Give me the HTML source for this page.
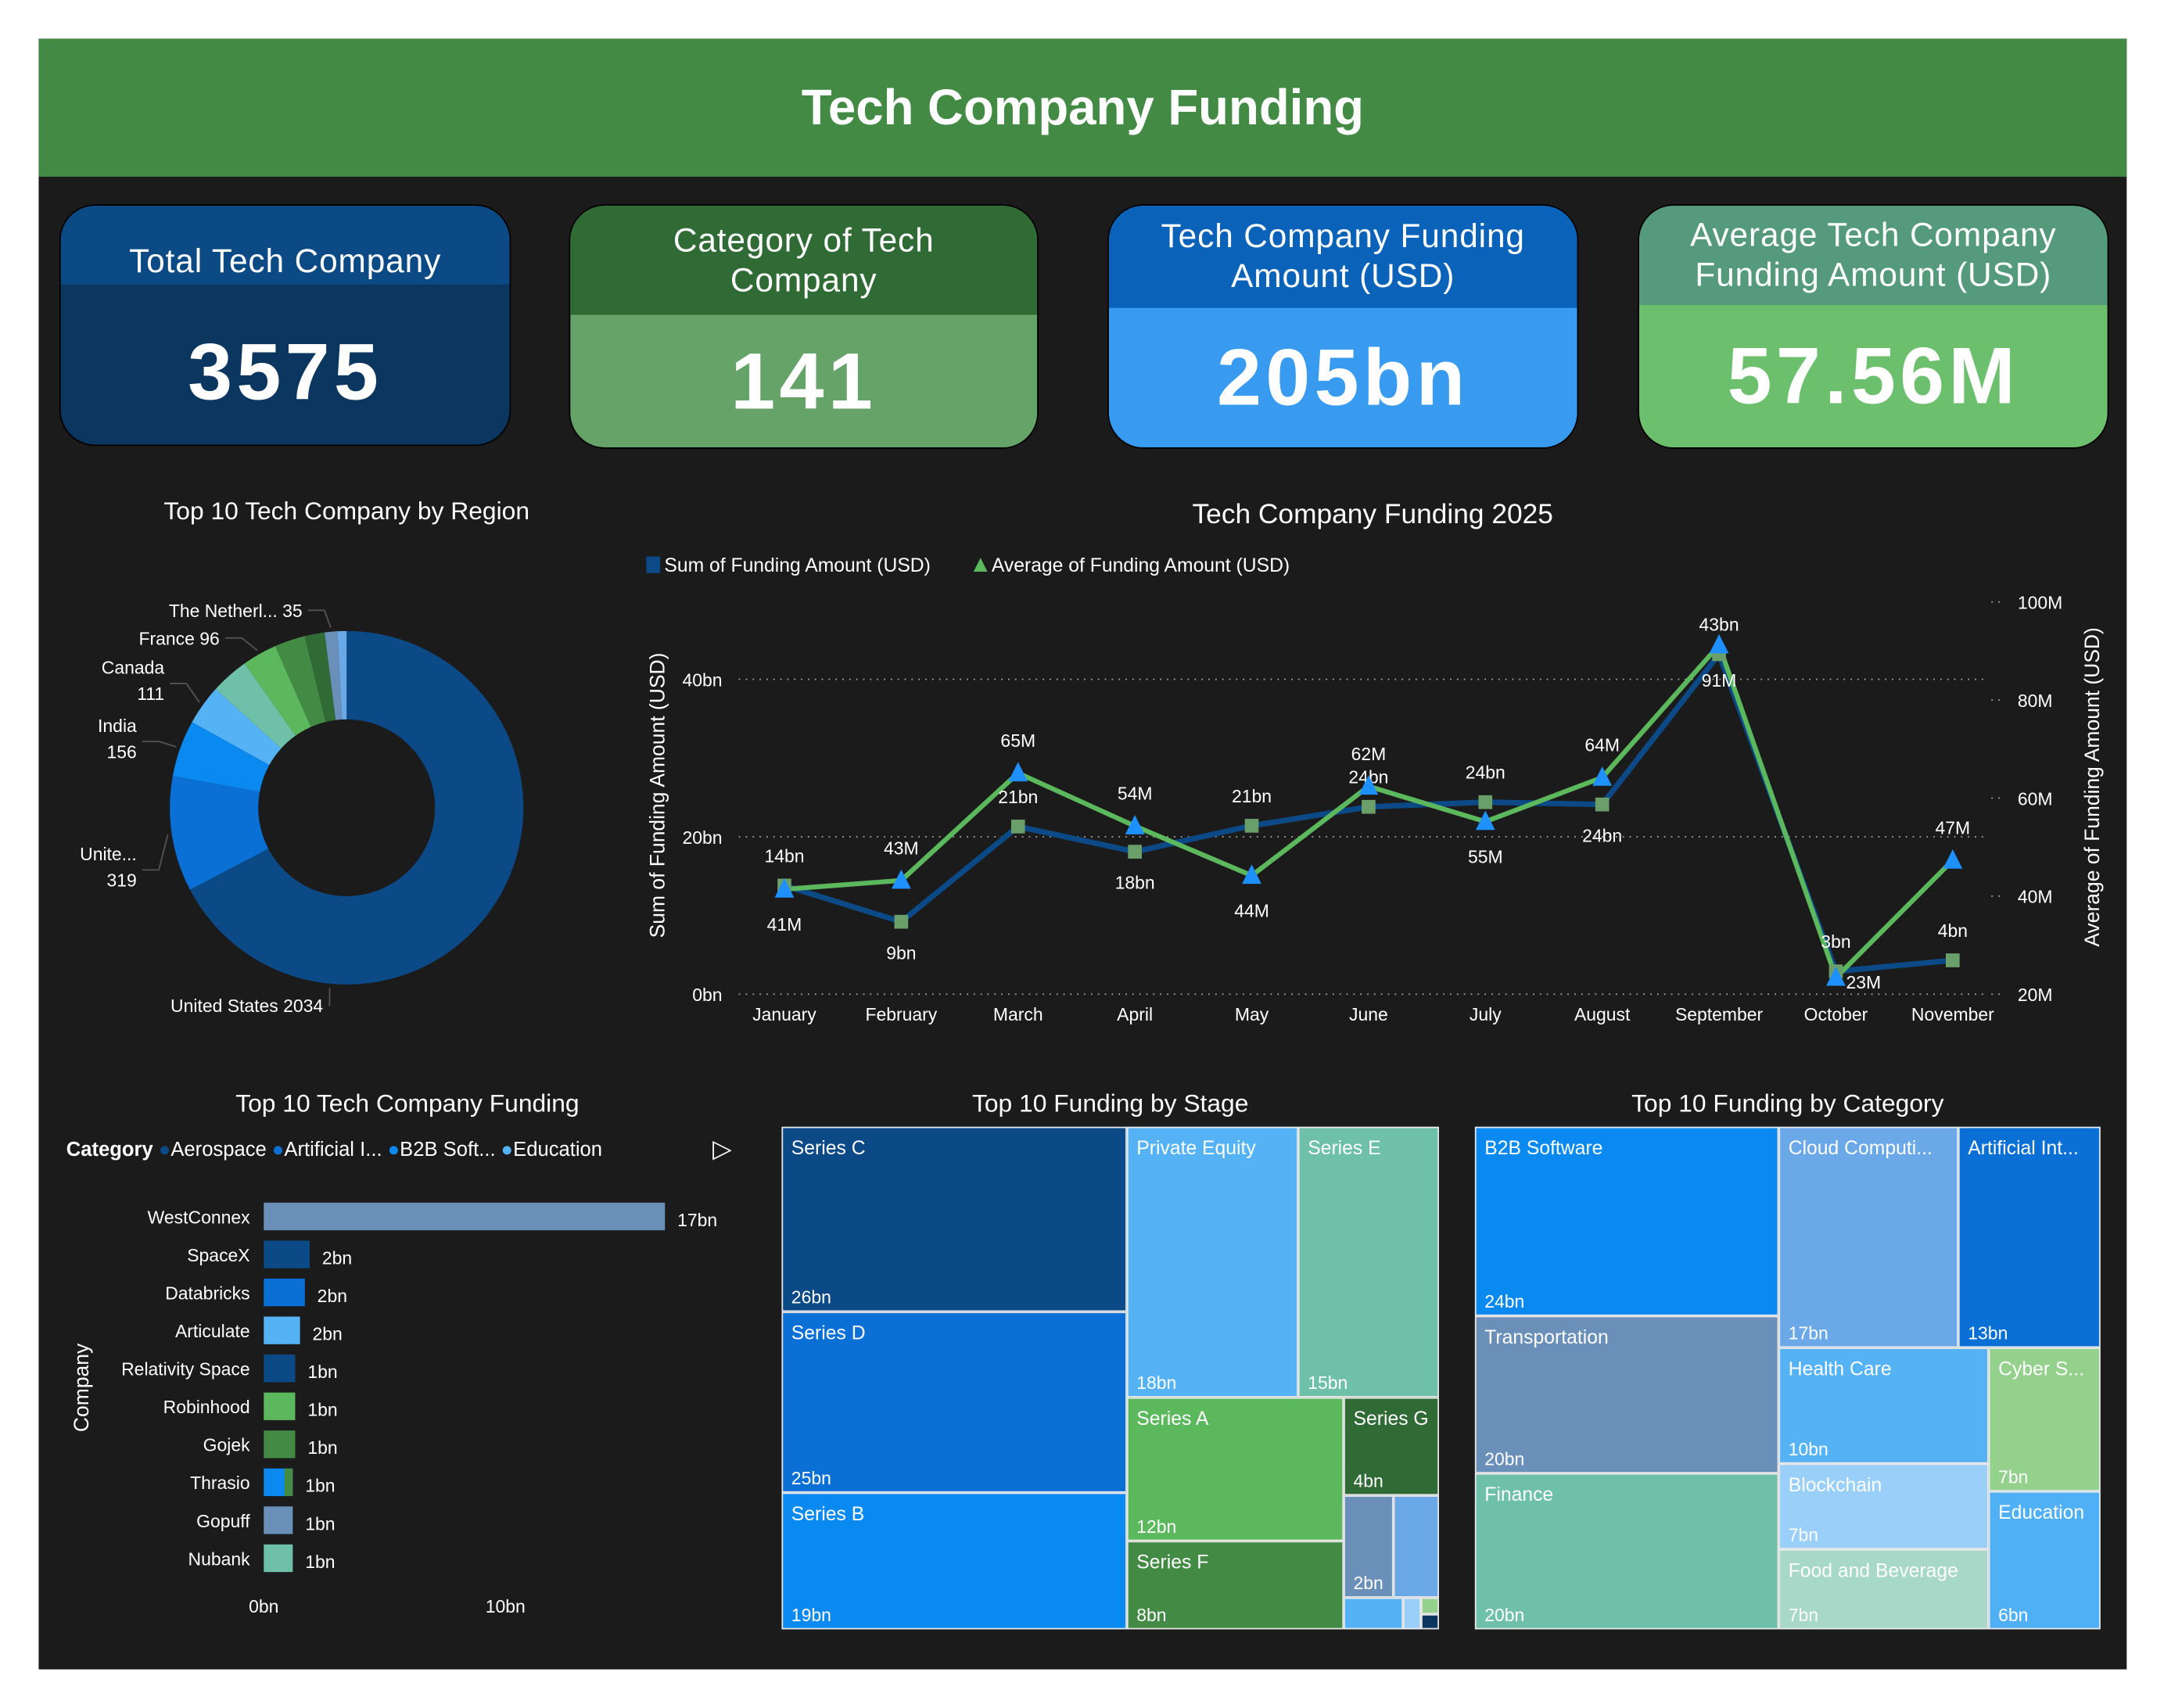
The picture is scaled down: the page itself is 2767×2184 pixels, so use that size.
<!DOCTYPE html>
<html><head><meta charset="utf-8">
<style>
html,body{margin:0;padding:0;background:#fff;}
body{width:2767px;height:2184px;overflow:hidden;font-family:"Liberation Sans",sans-serif;}
#root{position:absolute;left:0;top:0;width:1567px;height:1237px;transform:scale(1.7658,1.7656);transform-origin:0 0;}
.abs{position:absolute;}
.panel{left:28px;top:28px;width:1512px;height:1181px;background:#1b1b1b;}
.header{left:28px;top:28px;width:1512px;height:100px;background:#438a45;color:#fff;font-weight:bold;font-size:36px;text-align:center;line-height:100px;}
.card{position:absolute;border:1.5px solid #000;border-radius:26px;overflow:hidden;color:#fff;text-align:center;}
.card .t{position:absolute;left:0;right:0;top:0;display:flex;align-items:center;justify-content:center;font-size:24px;line-height:29px;letter-spacing:0.5px;}
.card .v{position:absolute;left:0;right:0;bottom:0;display:flex;align-items:center;justify-content:center;font-size:58px;font-weight:bold;letter-spacing:3px;}
.title{color:#fff;font-size:18px;text-align:center;position:absolute;}
.tm{position:absolute;box-sizing:border-box;border:1px solid #e8e8e8;color:#fff;font-size:14px;overflow:hidden;}
.tm .n{position:absolute;left:6px;top:6px;white-space:nowrap;}
.tm .val{position:absolute;left:6px;bottom:2px;font-size:13px;}
</style></head><body>
<div id="root">
<div class="abs panel"></div>
<div class="abs header">Tech Company Funding</div>

<div class="card" style="left:43px;top:148px;width:325px;height:173px;background:#0b365f;">
 <div class="t" style="height:57px;background:#0c4a86;"><span style="position:relative;top:12px">Total Tech Company</span></div>
 <div class="v" style="height:106px;">3575</div></div>
<div class="card" style="left:412px;top:148px;width:338px;height:175px;background:#66a368;">
 <div class="t" style="height:79px;background:#306b35;">Category of Tech<br>Company</div>
 <div class="v" style="height:96px;">141</div></div>
<div class="card" style="left:802px;top:148px;width:339px;height:175px;background:#389bf0;">
 <div class="t" style="height:74px;background:#0a63b8;">Tech Company Funding<br>Amount (USD)</div>
 <div class="v" style="height:101px;">205bn</div></div>
<div class="card" style="left:1186px;top:148px;width:339px;height:175px;background:#6cbf6c;">
 <div class="t" style="height:72px;background:#559a7c;">Average Tech Company<br>Funding Amount (USD)</div>
 <div class="v" style="height:103px;">57.56M</div></div>

<div class="title" style="left:60px;top:360px;width:382px;">Top 10 Tech Company by Region</div>
<svg class="abs" id="donut" style="left:28px;top:380px;" width="440" height="380"></svg>

<div class="title" style="left:800px;top:362px;width:388px;font-size:20px;">Tech Company Funding 2025</div>
<svg class="abs" id="line" style="left:440px;top:390px;" width="1100" height="370"></svg>

<div class="title" style="left:100px;top:789px;width:390px;">Top 10 Tech Company Funding</div>
<div class="abs" style="left:48px;top:825px;color:#fff;font-size:14.5px;white-space:nowrap;">
<b>Category</b> <span style="color:#0b4a87">●</span>Aerospace <span style="color:#0b70d6">●</span>Artificial I... <span style="color:#0a8af0">●</span>B2B Soft... <span style="color:#55b3f5">●</span>Education</div>
<div class="abs" style="left:516px;top:822px;color:#fff;font-size:18px;">▷</div>
<svg class="abs" id="bar" style="left:28px;top:860px;" width="520" height="320"></svg>

<div class="title" style="left:566px;top:789px;width:476px;">Top 10 Funding by Stage</div>
<div class="abs" style="left:566px;top:816px;width:476px;height:364px;">
<div class="tm" style="left:0;top:0;width:250px;height:134px;background:#0b4a87"><span class="n">Series C</span><span class="val">26bn</span></div>
<div class="tm" style="left:0;top:134px;width:250px;height:131px;background:#0b70d6"><span class="n">Series D</span><span class="val">25bn</span></div>
<div class="tm" style="left:0;top:265px;width:250px;height:99px;background:#0a8af0"><span class="n">Series B</span><span class="val">19bn</span></div>
<div class="tm" style="left:250px;top:0;width:124px;height:196px;background:#55b3f5"><span class="n">Private Equity</span><span class="val">18bn</span></div>
<div class="tm" style="left:374px;top:0;width:102px;height:196px;background:#6fc0a8"><span class="n">Series E</span><span class="val">15bn</span></div>
<div class="tm" style="left:250px;top:196px;width:157px;height:104px;background:#5cb85c"><span class="n">Series A</span><span class="val">12bn</span></div>
<div class="tm" style="left:407px;top:196px;width:69px;height:71px;background:#306b35"><span class="n">Series G</span><span class="val">4bn</span></div>
<div class="tm" style="left:250px;top:300px;width:157px;height:64px;background:#438a45"><span class="n">Series F</span><span class="val">8bn</span></div>
<div class="tm" style="left:407px;top:267px;width:36px;height:74px;background:#6a8fb8"><span class="val">2bn</span></div>
<div class="tm" style="left:443px;top:267px;width:33px;height:74px;background:#6aa8e8"></div>
<div class="tm" style="left:407px;top:341px;width:43px;height:23px;background:#55b3f5"></div>
<div class="tm" style="left:450px;top:341px;width:13px;height:23px;background:#99cff8"></div>
<div class="tm" style="left:463px;top:341px;width:13px;height:12px;background:#93d18c"></div>
<div class="tm" style="left:463px;top:353px;width:13px;height:11px;background:#0b365f"></div>
</div>

<div class="title" style="left:1068px;top:789px;width:453px;">Top 10 Funding by Category</div>
<div class="abs" style="left:1068px;top:816px;width:453px;height:364px;">
<div class="tm" style="left:0;top:0;width:220px;height:137px;background:#0a8af0"><span class="n">B2B Software</span><span class="val">24bn</span></div>
<div class="tm" style="left:0;top:137px;width:220px;height:114px;background:#6a8fb8"><span class="n">Transportation</span><span class="val">20bn</span></div>
<div class="tm" style="left:0;top:251px;width:220px;height:113px;background:#6fc0a8"><span class="n">Finance</span><span class="val">20bn</span></div>
<div class="tm" style="left:220px;top:0;width:130px;height:160px;background:#6aa8e8"><span class="n">Cloud Computi...</span><span class="val">17bn</span></div>
<div class="tm" style="left:350px;top:0;width:103px;height:160px;background:#0b70d6"><span class="n">Artificial Int...</span><span class="val">13bn</span></div>
<div class="tm" style="left:220px;top:160px;width:152px;height:84px;background:#55b3f5"><span class="n">Health Care</span><span class="val">10bn</span></div>
<div class="tm" style="left:372px;top:160px;width:81px;height:104px;background:#93d18c"><span class="n">Cyber S...</span><span class="val">7bn</span></div>
<div class="tm" style="left:220px;top:244px;width:152px;height:62px;background:#99cff8"><span class="n">Blockchain</span><span class="val">7bn</span></div>
<div class="tm" style="left:220px;top:306px;width:152px;height:58px;background:#a8d8c8"><span class="n">Food and Beverage</span><span class="val">7bn</span></div>
<div class="tm" style="left:372px;top:264px;width:81px;height:100px;background:#4fb0f5"><span class="n">Education</span><span class="val">6bn</span></div>
</div>
</div>

<script>
const NS="http://www.w3.org/2000/svg";
function mk(p,tag,at,txt){const e=document.createElementNS(NS,tag);for(const k in at)e.setAttribute(k,at[k]);if(txt!==undefined)e.textContent=txt;p.appendChild(e);return e;}

// ---------- Donut data ----------
const regions=["United States","United Kingdom","India","Canada","Other A","France","Other B","Other C","The Netherlands","Other D"];
const regionCounts=[2034,319,156,111,105,96,85,55,35,25];
const regionLabels=["United States 2034","Unite...|319","India|156","Canada|111","","France 96","","","The Netherl... 35",""];
const regionColors=["#0b4a87","#0b70d6","#0a8af0","#55b3f5","#6fc0a8","#5cb85c","#438a45","#306b35","#6a8fb8","#6aa8e8"];
// label anchor layout (elbow x,y in svg coords) — layout, not data
const labelElbow={0:[210,348],1:[75,250],2:[75,157],3:[95,115],5:[135,82],8:[195,62]};
(function(){
 const s=document.getElementById('donut');
 const cx=223,cy=205,R=128,r=64;
 const tot=regionCounts.reduce((a,b)=>a+b,0);
 let a0=0;
 regionCounts.forEach((v,i)=>{
  const a1=a0+v/tot*2*Math.PI;
  const p=(a,rr)=>[cx+rr*Math.sin(a),cy-rr*Math.cos(a)];
  const [x1,y1]=p(a0,R),[x2,y2]=p(a1,R),[x3,y3]=p(a1,r),[x4,y4]=p(a0,r);
  const lg=(a1-a0)>Math.PI?1:0;
  const path=mk(s,'path',{d:`M${x1},${y1}A${R},${R} 0 ${lg} 1 ${x2},${y2}L${x3},${y3}A${r},${r} 0 ${lg} 0 ${x4},${y4}Z`,fill:regionColors[i]});
  
  
  if(regionLabels[i]){
   let am=(a0+a1)/2;
   if(i===0) am=Math.PI*1.03;
   const [ex,ey]=p(am,R+3);
   const [hx,hy]=labelElbow[i];
   const mx=i===0?ex:hx+12;
   mk(s,'polyline',{points:`${ex},${ey} ${mx},${hy} ${hx},${hy}`,fill:'none',stroke:'#555','stroke-width':1});
   const parts=regionLabels[i].split('|');
   parts.forEach((t,j)=>{
    const ty=parts.length>1?hy-7+j*19:hy+5;
    const tx=mk(s,'text',{x:hx-4,y:ty,fill:'#fff','font-size':13,'text-anchor':'end'},t);
    
    
   });
  }
  a0=a1;
 });
})();

// ---------- Line chart data ----------
const months=["January","February","March","April","May","June","July","August","September","October","November"];
const sumBn=[13.8,9.2,21.3,18.1,21.4,23.8,24.4,24.1,43.2,2.9,4.3];
const avgM=[41.4,43.2,65.1,54.3,44.2,62.4,55.2,64.2,91.2,23.4,47.3];
const sumLabelSide=[1,-1,1,-1,1,1,1,-1,1,1,1];
const avgLabelSide=[-1,1,1,1,-1,1,-1,1,-1,0,1];
const leftTicks=[0,20,40];
const rightTicks=[20,40,60,80,100];
(function(){
 const s=document.getElementById('line');
 const ox=440,oy=390;
 const xS=i=>568-ox+i*84.6;
 const yL=v=>720-oy-v*5.7;
 const yR=v=>720-oy-(v-20)*3.55;
 mk(s,'rect',{x:28,y:13,width:10,height:12,fill:'#0b4a87'});
 mk(s,'text',{x:41,y:24,fill:'#fff','font-size':14},'Sum of Funding Amount (USD)');
 mk(s,'path',{d:'M265,24 L270,14 L275,24Z',fill:'#5cb85c'});
 mk(s,'text',{x:278,y:24,fill:'#fff','font-size':14},'Average of Funding Amount (USD)');
 leftTicks.forEach(t=>{
  mk(s,'line',{x1:95,x2:1000,y1:yL(t),y2:yL(t),stroke:'#aaa','stroke-dasharray':'1,4','stroke-width':1});
  mk(s,'text',{x:83,y:yL(t)+5,fill:'#fff','font-size':13,'text-anchor':'end'},t+'bn');
 });
 rightTicks.forEach(t=>{
  mk(s,'line',{x1:1002,x2:1010,y1:yR(t),y2:yR(t),stroke:'#aaa','stroke-dasharray':'1,4'});
  mk(s,'text',{x:1021,y:yR(t)+5,fill:'#fff','font-size':13},t+'M');
 });
 mk(s,'text',{x:0,y:0,fill:'#fff','font-size':15,'text-anchor':'middle',transform:`translate(41,${yL(20)-30}) rotate(-90)`},'Sum of Funding Amount (USD)');
 mk(s,'text',{x:0,y:0,fill:'#fff','font-size':15,'text-anchor':'middle',transform:`translate(1080,${yR(60)-8}) rotate(-90)`},'Average of Funding Amount (USD)');
 months.forEach((m,i)=>mk(s,'text',{x:xS(i),y:349,fill:'#fff','font-size':13,'text-anchor':'middle'},m));
 const sl=mk(s,'polyline',{points:sumBn.map((v,i)=>xS(i)+','+yL(v)).join(' '),fill:'none',stroke:'#0b4a87','stroke-width':4});
 
 
 const al=mk(s,'polyline',{points:avgM.map((v,i)=>xS(i)+','+yR(v)).join(' '),fill:'none',stroke:'#5cb85c','stroke-width':3.5});
 
 
 sumBn.forEach((v,i)=>{
  const m=mk(s,'rect',{x:xS(i)-5,y:yL(v)-5,width:10,height:10,fill:'#6a9f6a'});
  
  
  mk(s,'text',{x:xS(i),y:yL(v)+(sumLabelSide[i]>0?-17:27),fill:'#fff','font-size':13,'text-anchor':'middle'},Math.round(v)+'bn');
 });
 avgM.forEach((v,i)=>{
  const x=xS(i),y=yR(v);
  const m=mk(s,'path',{d:`M${x-7},${y+6} L${x},${y-8} L${x+7},${y+6}Z`,fill:'#1e90ff'});
  
  
  const sd=avgLabelSide[i];
  mk(s,'text',{x:sd===0?x+20:x,y:sd===0?y+8:(sd>0?y-19:y+30),fill:'#fff','font-size':13,'text-anchor':'middle'},Math.round(v)+'M');
 });
})();

// ---------- Bar chart data ----------
const companies=["WestConnex","SpaceX","Databricks","Articulate","Relativity Space","Robinhood","Gojek","Thrasio","Gopuff","Nubank"];
const fundingBn=[16.6,1.9,1.7,1.5,1.3,1.3,1.3,1.2,1.2,1.2];
const fundingLabels=["17bn","2bn","2bn","2bn","1bn","1bn","1bn","1bn","1bn","1bn"];
const barColors=["#6a8fb8","#0b4a87","#0b70d6","#55b3f5","#0b4a87","#5cb85c","#438a45","#0a8af0","#6a8fb8","#6fc0a8"];
const barTicks=[0,10];
(function(){
 const s=document.getElementById('bar');
 const ox=28,oy=860;
 const xS=v=>191-ox+v*17.5;
 const yS=i=>881-oy+i*27.5;
 companies.forEach((c,i)=>{
  mk(s,'text',{x:181-ox,y:yS(i)+5,fill:'#fff','font-size':13,'text-anchor':'end'},c);
  const b=mk(s,'rect',{x:xS(0),y:yS(i)-10,width:xS(fundingBn[i])-xS(0),height:20,fill:barColors[i]});
  
  
  if(c==="Thrasio"){mk(s,'rect',{x:xS(fundingBn[i])-6,y:yS(i)-10,width:6,height:20,fill:'#438a45'});}
  mk(s,'text',{x:xS(fundingBn[i])+9,y:yS(i)+7,fill:'#fff','font-size':13},fundingLabels[i]);
 });
 barTicks.forEach(t=>mk(s,'text',{x:xS(t),y:1168-oy,fill:'#fff','font-size':13,'text-anchor':'middle'},t+'bn'));
 mk(s,'text',{x:0,y:0,fill:'#fff','font-size':15,'text-anchor':'middle',transform:`translate(${36},${1005-oy}) rotate(-90)`},'Company');
})();
</script>
</body></html>
